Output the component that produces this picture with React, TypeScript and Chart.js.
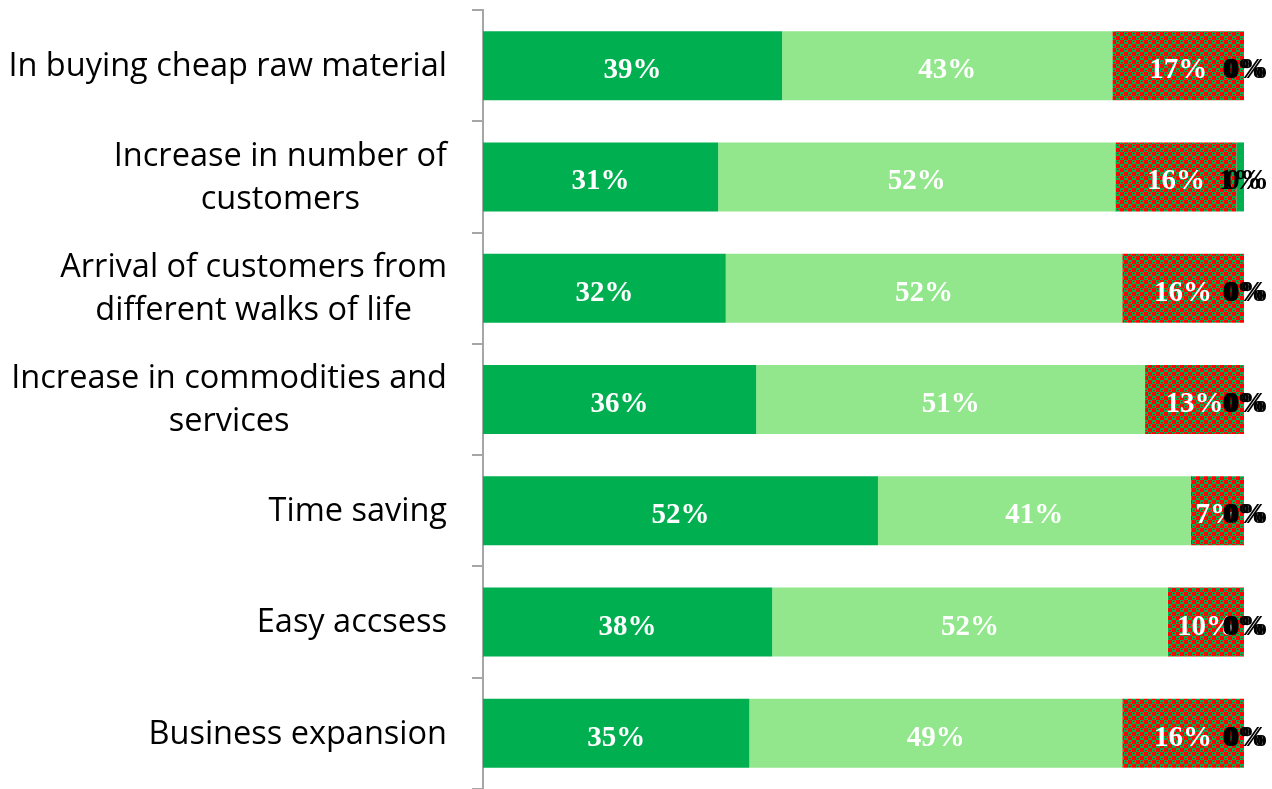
import React, { useEffect, useRef } from "react";
import { Chart, registerables } from "chart.js";

Chart.register(...registerables);

const categories: string[][] = [
  ["In buying cheap raw material"],
  ["Increase in number of", "customers"],
  ["Arrival of customers from", "different walks of life"],
  ["Increase in commodities and", "services"],
  ["Time saving"],
  ["Easy accsess"],
  ["Business expansion"],
];

const seriesNames = ["Strongly agree", "Agree", "Neutral", "Disagree", "Strongly disagree"];
const stronglyAgree = [39.3, 30.9, 31.9, 35.9, 51.9, 38.0, 35.0];
const agree = [43.4, 52.2, 52.1, 51.1, 41.1, 52.0, 49.0];
const neutral = [17.3, 15.9, 16.0, 13.0, 7.0, 10.0, 16.0];
const disagree = [0, 1.0, 0, 0, 0, 0, 0];
const stronglyDisagree = [0, 0, 0, 0, 0, 0, 0];

const DARK = "#00B050";
const LIGHT = "#92E78C";
const RED = "#FF0000";

function makePattern(): CanvasPattern | string {
  const c = document.createElement("canvas");
  c.width = 8;
  c.height = 8;
  const g = c.getContext("2d");
  if (!g) return RED;
  g.fillStyle = DARK;
  g.fillRect(0, 0, 8, 8);
  g.fillStyle = RED;
  g.fillRect(0, 0, 4, 4);
  g.fillRect(4, 4, 4, 4);
  g.fillRect(5, 1, 2, 1);
  g.fillRect(1, 6, 2, 1);
  const p = g.createPattern(c, "repeat");
  return p || RED;
}

const catLabelPlugin = {
  id: "catLabels",
  afterDraw(chart: any) {
    const ctx = chart.ctx;
    const y = chart.scales.y;
    const right = chart.chartArea.left - 36;
    ctx.save();
    ctx.font = "32.5px 'Open Sans'";
    ctx.fillStyle = "#000";
    ctx.textAlign = "center";
    ctx.textBaseline = "middle";
    const lh = 43;
    categories.forEach((lines, i) => {
      const cy = y.getPixelForValue(i) + 1;
      const maxW = Math.max(...lines.map((l) => ctx.measureText(l).width));
      const cx = right - maxW / 2;
      lines.forEach((l, j) => {
        const ly = cy + (j - (lines.length - 1) / 2) * lh;
        ctx.fillText(l, cx, ly);
      });
    });
    ctx.restore();
  },
};

const valueLabelPlugin = {
  id: "valueLabels",
  afterDatasetsDraw(chart: any) {
    const ctx = chart.ctx;
    ctx.save();
    ctx.font = "bold 29px 'Liberation Serif'";
    ctx.textAlign = "center";
    ctx.textBaseline = "middle";
    chart.data.datasets.forEach((ds: any, di: number) => {
      const meta = chart.getDatasetMeta(di);
      ctx.fillStyle = di < 3 ? "#FFFFFF" : "#000000";
      meta.data.forEach((bar: any, i: number) => {
        const v = ds.data[i];
        const x = (bar.x + bar.base) / 2 + (di === 4 ? 3 : 0);
        ctx.fillText(Math.round(v) + "%", x, bar.y + 5);
      });
    });
    ctx.restore();
  },
};

export default function App() {
  const ref = useRef<HTMLCanvasElement>(null);
  useEffect(() => {
    if (!ref.current) return;
    const pattern = makePattern();
    const chart = new Chart(ref.current, {
      type: "bar",
      data: {
        labels: categories.map((c) => c.join(" ")),
        datasets: [
          { label: seriesNames[0], data: stronglyAgree, backgroundColor: DARK },
          { label: seriesNames[1], data: agree, backgroundColor: LIGHT },
          { label: seriesNames[2], data: neutral, backgroundColor: pattern as any },
          { label: seriesNames[3], data: disagree, backgroundColor: DARK },
          { label: seriesNames[4], data: stronglyDisagree, backgroundColor: "#C00000" },
        ],
      },
      options: {
        indexAxis: "y",
        animation: false,
        responsive: false,
        layout: { padding: { top: 10, right: 28, bottom: 0, left: 0 } },
        datasets: { bar: { categoryPercentage: 1, barPercentage: 0.62, borderWidth: 0 } },
        plugins: { legend: { display: false }, tooltip: { enabled: false } },
        scales: {
          x: { stacked: true, min: 0, max: 100, display: false },
          y: {
            stacked: true,
            ticks: { display: false },
            grid: {
              offset: true,
              drawOnChartArea: false,
              drawTicks: true,
              tickLength: 11,
              color: "#A6A6A6",
              lineWidth: 2,
            },
            border: { display: true, color: "#A6A6A6", width: 2 },
            afterFit(scale: any) {
              scale.width = 483;
            },
          },
        },
      },
      plugins: [catLabelPlugin, valueLabelPlugin],
    });
    return () => chart.destroy();
  }, []);
  return (
    <div style={{ position: "fixed", left: 0, top: 0, width: 1272, height: 789, background: "#fff" }}>
      <canvas ref={ref} width={1272} height={789} style={{ display: "block" }} />
    </div>
  );
}
